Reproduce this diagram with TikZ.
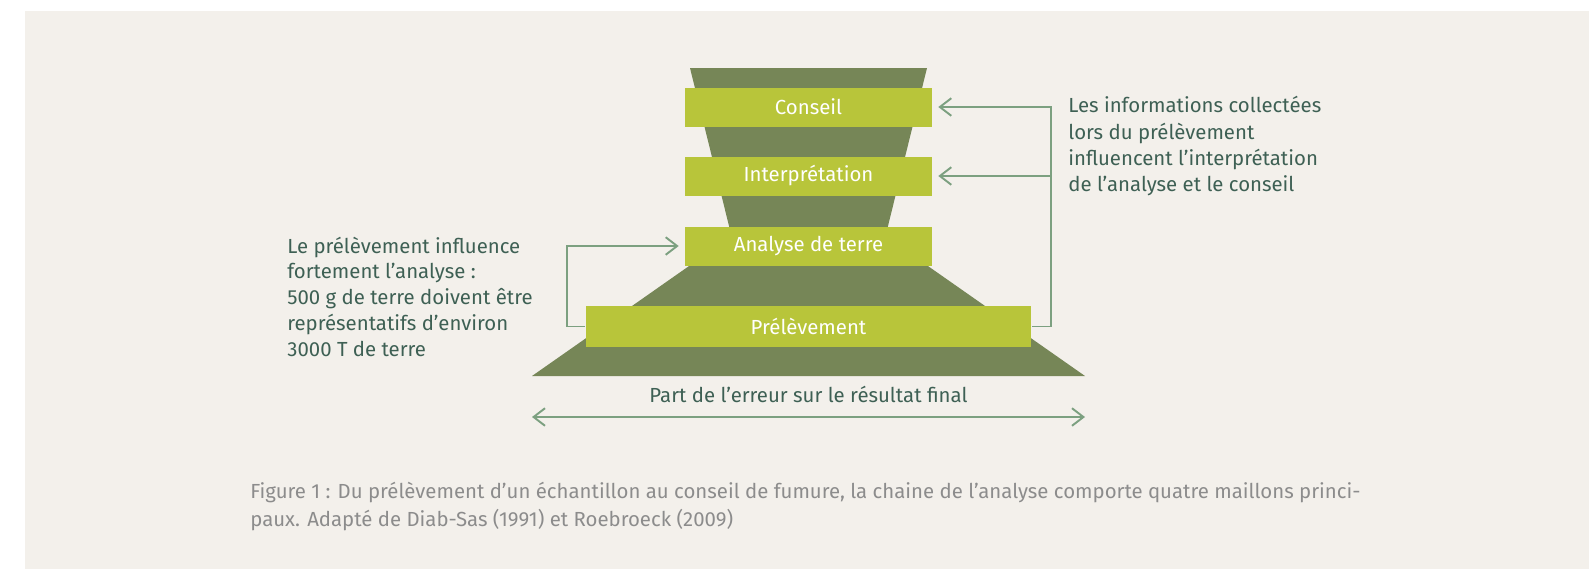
\documentclass[tikz,border=0pt]{standalone}
\usepackage{fontspec}
\setmainfont{Fira Sans}
\usetikzlibrary{arrows.meta}
\definecolor{fond}{RGB}{243,240,235}
\definecolor{olive}{RGB}{118,134,87}
\definecolor{lime}{RGB}{184,197,58}
\definecolor{trait}{RGB}{124,160,128}
\definecolor{texte}{RGB}{62,96,84}
\definecolor{legende}{RGB}{140,140,140}
\begin{document}
\begin{tikzpicture}[x=0.02cm,y=-0.02cm,
    pointe/.tip={Straight Barb[length=6.5pt,width=10pt]},
    etape/.style={fill=lime,text=white,minimum width=4.94cm,minimum height=0.78cm,inner sep=0pt,font=\fontsize{11.6}{13}\selectfont},
    lien/.style={draw=trait,line width=1.1pt,-pointe,shorten >=3.4pt},
    note/.style={text=texte,align=left,inner sep=0pt,font=\fontsize{11.6}{14.8}\selectfont}]
    \useasboundingbox (0,0) rectangle (1589,569);
    \fill[fond] (25,11) rectangle (1589,569);
    \fill[olive] (690,68) -- (927,68) -- (887.5,228) -- (729.5,228) -- cycle;
    \fill[olive] (690.5,265) -- (926.5,265) -- (1085,376) -- (532,376) -- cycle;
    \node[etape] (conseil) at (808.5,107) {Conseil};
    \node[etape] (interp) at (808.5,176) {Interprétation};
    \node[etape] (analyse) at (808.5,246) {Analyse de terre};
    \node[etape,minimum width=8.92cm,minimum height=0.82cm] (prelev) at (808.5,326.5) {Prélèvement};
    \coordinate (droite) at (1051,107);
    \coordinate (gauche) at (567,246);
    \draw[lien] (prelev.east) -| (droite) -- (conseil.east);
    \draw[lien] (droite |- interp.east) -- (interp.east);
    \draw[lien] (prelev.west) -| (gauche) -- (analyse.west);
    \node[note,anchor=base west] (infos) at (1068,191)
    {Les informations collectées\\lors du prélèvement\\influencent l’interprétation\\de l’analyse et le conseil};
    \node[note,anchor=base west,font=\fontsize{11.6}{14.65}\selectfont] (influence) at (287,356)
    {Le prélèvement influence\\fortement l’analyse :\\500 g de terre doivent être\\représentatifs d’environ\\3000 T de terre};
    \node[note,anchor=base] (part) at (808.5,402) {Part de l’erreur sur le résultat final};
    \coordinate (errg) at (532,417);
    \coordinate (errd) at (1085,417);
    \draw[lien,pointe-pointe,shorten >=0pt] (errg) -- (errd);
    \node[note,text=legende,anchor=base west,font=\fontsize{11.6}{15.4}\selectfont] (legende) at (250,526)
    {Figure 1 : Du prélèvement d’un échantillon au conseil de fumure, la chaine de l’analyse comporte quatre maillons princi-\\paux. Adapté de Diab-Sas (1991) et Roebroeck (2009)};
\end{tikzpicture}
\end{document}
